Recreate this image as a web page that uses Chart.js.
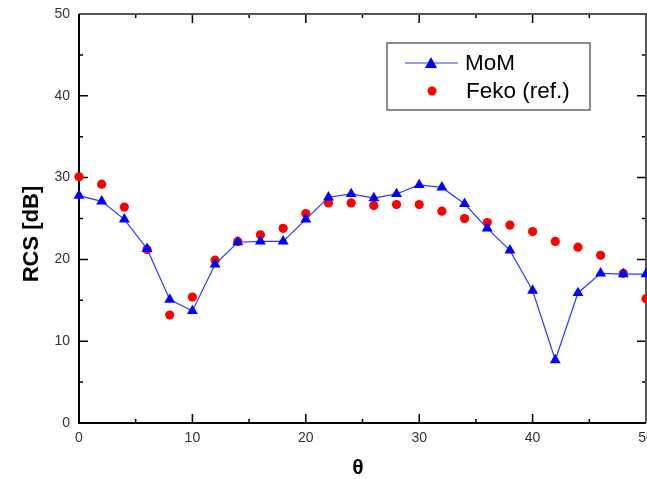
<!DOCTYPE html>
<html>
<head>
<meta charset="utf-8">
<script src="https://cdn.jsdelivr.net/npm/chart.js@4"></script>
<style>
  html, body { margin: 0; padding: 0; background: #fff; overflow: hidden; }
  #wrap { width: 647px; height: 479px; overflow: hidden; }
</style>
</head>
<body>
<div id="wrap"><canvas id="myChart" width="647" height="479"></canvas></div>
<script>
/* DATA */
const theta = [0, 2, 4, 6, 8, 10, 12, 14, 16, 18, 20, 22, 24, 26, 28, 30, 32, 34, 36, 38, 40, 42, 44, 46, 48, 50];
const momValues = [27.8, 27.1, 24.9, 21.3, 15.1, 13.7, 19.4, 22.1, 22.2, 22.2, 24.9, 27.6, 28.0, 27.5, 28.0, 29.1, 28.8, 26.8, 23.8, 21.1, 16.2, 7.7, 15.9, 18.3, 18.2, 18.2];
const fekoValues = [30.1, 29.2, 26.4, 21.2, 13.2, 15.4, 19.9, 22.2, 23.0, 23.8, 25.6, 26.9, 26.9, 26.6, 26.7, 26.7, 25.9, 25.0, 24.5, 24.2, 23.4, 22.2, 21.5, 20.5, 18.3, 15.2];
const seriesNames = ['MoM', 'Feko (ref.)'];
const xTitle = '\u03b8';
const yTitle = 'RCS [dB]';

const FONT = 'Arial, "Liberation Sans", sans-serif';

function toPoints(xs, ys) {
  return xs.map(function(x, i) { return { x: x, y: ys[i] }; });
}

/* frame + inward ticks on all four sides */
const framePlugin = {
  id: 'frame',
  beforeDatasetsDraw(chart) {
    const ctx = chart.ctx;
    const a = chart.chartArea;
    const xs = chart.scales.x;
    const ys = chart.scales.y;
    ctx.save();
    ctx.strokeStyle = '#000';
    ctx.lineWidth = 1.5;
    // ticks
    const major = 9, minor = 4;
    for (let v = 0; v <= 50; v += 5) {
      const len = v % 10 === 0 ? major : minor;
      const px = xs.getPixelForValue(v);
      const py = ys.getPixelForValue(v);
      ctx.beginPath();
      ctx.moveTo(px, a.bottom); ctx.lineTo(px, a.bottom - len);
      ctx.moveTo(px, a.top); ctx.lineTo(px, a.top + len);
      ctx.moveTo(a.left, py); ctx.lineTo(a.left + len, py);
      ctx.moveTo(a.right, py); ctx.lineTo(a.right - len, py);
      ctx.stroke();
    }
    // top/right frame in grey, left/bottom in black
    ctx.lineWidth = 2;
    ctx.strokeStyle = '#555';
    ctx.beginPath();
    ctx.moveTo(a.left, a.top); ctx.lineTo(a.right, a.top); ctx.lineTo(a.right, a.bottom);
    ctx.stroke();
    ctx.strokeStyle = '#000';
    ctx.beginPath();
    ctx.moveTo(a.left, a.top); ctx.lineTo(a.left, a.bottom); ctx.lineTo(a.right, a.bottom);
    ctx.stroke();

    // axis titles
    ctx.fillStyle = '#000';
    ctx.textAlign = 'center';
    ctx.textBaseline = 'middle';
    ctx.font = 'bold 22px ' + FONT;
    ctx.save();
    ctx.translate(32, 234);
    ctx.rotate(-Math.PI / 2);
    ctx.fillText(yTitle, 0, 0);
    ctx.restore();
    ctx.font = 'bold 21px ' + FONT;
    ctx.fillText(xTitle, 358, 468);
    ctx.restore();
  }
};

/* boxed legend */
const legendPlugin = {
  id: 'boxLegend',
  afterDraw(chart) {
    const ctx = chart.ctx;
    const bx = 387, by = 43, bw = 203, bh = 67;
    ctx.save();
    ctx.fillStyle = '#fff';
    ctx.fillRect(bx, by, bw, bh);
    ctx.strokeStyle = '#666';
    ctx.lineWidth = 1.5;
    ctx.strokeRect(bx, by, bw, bh);

    const ds = chart.data.datasets;
    // row 1: line + triangle
    let y = 63;
    ctx.strokeStyle = ds[0].borderColor;
    ctx.lineWidth = 1;
    ctx.beginPath();
    ctx.moveTo(405, y); ctx.lineTo(458, y);
    ctx.stroke();
    ctx.fillStyle = ds[0].pointBackgroundColor;
    ctx.beginPath();
    ctx.moveTo(431, y - 6); ctx.lineTo(437, y + 5); ctx.lineTo(425, y + 5);
    ctx.closePath();
    ctx.fill();
    // row 2: circle
    let y2 = 91;
    ctx.fillStyle = ds[1].pointBackgroundColor;
    ctx.beginPath();
    ctx.arc(432, y2, 4.5, 0, Math.PI * 2);
    ctx.fill();

    ctx.fillStyle = '#000';
    ctx.font = '22.5px ' + FONT;
    ctx.textAlign = 'left';
    ctx.textBaseline = 'middle';
    ctx.fillText(ds[0].label, 465, y + 1);
    ctx.fillText(ds[1].label, 466, y2 + 1);
    ctx.restore();
  }
};

const ctx = document.getElementById('myChart').getContext('2d');
// eslint-disable-next-line no-undef
const chart = new Chart(ctx, {
  type: 'scatter',
  data: {
    datasets: [{
      label: seriesNames[0],
      data: toPoints(theta, momValues),
      showLine: true,
      borderColor: '#2a3cff',
      borderWidth: 1.2,
      pointStyle: 'triangle',
      pointRadius: 6.3,
      pointBackgroundColor: '#0000ff',
      pointBorderColor: '#0000ff',
      pointBorderWidth: 0,
      clip: false,
      order: 1
    },
    {
      label: seriesNames[1],
      data: toPoints(theta, fekoValues),
      showLine: false,
      pointStyle: 'circle',
      pointRadius: 4.6,
      pointBackgroundColor: '#ff0000',
      pointBorderColor: '#ff0000',
      pointBorderWidth: 0,
      clip: false,
      order: 2
    }]
  },
  options: {
    responsive: false,
    animation: false,
    devicePixelRatio: 1,
    layout: { autoPadding: false, padding: { top: 14, right: 1, left: 0, bottom: 0 } },
    plugins: {
      legend: { display: false },
      tooltip: { enabled: false }
    },
    scales: {
      x: {
        type: 'linear',
        min: 0,
        max: 50,
        grid: { display: false, drawTicks: false },
        border: { display: false },
        ticks: {
          stepSize: 10,
          padding: 7,
          maxRotation: 0,
          color: '#333',
          font: { family: FONT, size: 14 }
        },
        afterFit: function(scale) {
          scale.height = 56;
          scale.paddingLeft = 0;
          scale.paddingRight = 0;
        }
      },
      y: {
        type: 'linear',
        min: 0,
        max: 50,
        grid: { display: false, drawTicks: false },
        border: { display: false },
        ticks: {
          stepSize: 10,
          padding: 9,
          color: '#333',
          font: { family: FONT, size: 14 }
        },
        afterFit: function(scale) {
          scale.width = 79;
          scale.paddingTop = 0;
          scale.paddingBottom = 0;
        }
      }
    }
  },
  plugins: [framePlugin, legendPlugin]
});
</script>
</body>
</html>
